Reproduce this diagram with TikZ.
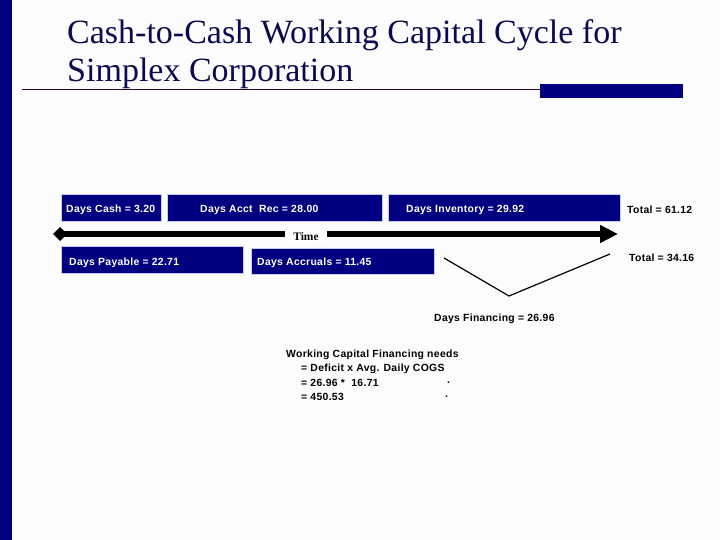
\documentclass[tikz,border=0pt]{standalone}
\usepackage{fontspec}
\setmainfont{Liberation Serif}
\newfontfamily\arialf[LetterSpace=3]{Liberation Sans}
\usetikzlibrary{arrows.meta}
\definecolor{navy}{RGB}{0,0,128}
\definecolor{titleblue}{RGB}{10,10,80}
\definecolor{rulecol}{RGB}{48,0,48}
\definecolor{bg}{RGB}{252,252,252}
\definecolor{edgecol}{RGB}{200,205,235}
\tikzset{
  bluebox/.style={fill=navy, draw=edgecol, line width=0.8pt, anchor=north west, inner sep=0pt},
  plain/.style={font=\arialf\bfseries\fontsize{10.4}{12}\selectfont, text=black, inner sep=0pt, anchor=west, yshift=-1.5pt},
  conn/.style={line width=1.2pt, black}
}
\begin{document}
\begin{tikzpicture}[x=1pt,y=-1pt]
\useasboundingbox (0,0) rectangle (720,540);
\fill[bg] (0,0) rectangle (720,540);
\fill[navy] (0,0) rectangle (12,540);
% title
\node[anchor=base west, inner sep=0pt, text=titleblue, font=\fontsize{34}{38}\selectfont] (t1) at (67,44) {Cash-to-Cash Working Capital Cycle for};
\node[anchor=base west, inner sep=0pt, text=titleblue, font=\fontsize{34}{38}\selectfont] (t2) at (67,82) {Simplex Corporation};
\draw[rulecol, line width=1.2pt] (22,89.5) -- (540,89.5);
\fill[navy] (540,84) rectangle (683,98);
% top boxes
\node[bluebox, minimum width=100, minimum height=27] (cash) at (61,194) {};
\node[plain, text=white] at ([xshift=5]cash.west) {Days Cash = 3.20};
\node[bluebox, minimum width=215, minimum height=27] (acct) at (167,194) {};
\node[plain, text=white] at (200,208) {Days Acct\ \ Rec = 28.00};
\node[bluebox, minimum width=232, minimum height=27] (inv) at (388,194) {};
\node[plain, text=white] at (406,208) {Days Inventory = 29.92};
\node[plain] (tot1) at (627,208) {Total = 61.12};
% time arrow
\coordinate (tstart) at (60,234);
\coordinate (tend) at (618,234);
\draw[line width=5pt, -{Triangle[length=18pt,width=17pt]}] (tstart) -- (tend);
\fill[black] (53,234) -- (60,227) -- (67,234) -- (60,241) -- cycle;
\node[fill=white, inner xsep=8pt, inner ysep=2pt, font=\fontsize{11.5}{12}\selectfont\bfseries] (time) at (306,237) {Time};
% bottom boxes
\node[bluebox, minimum width=182, minimum height=27] (pay) at (61,246) {};
\node[plain, text=white] at (69,261) {Days Payable = 22.71};
\node[bluebox, minimum width=183, minimum height=26] (accr) at (251,248) {};
\node[plain, text=white] at (257,261) {Days Accruals = 11.45};
\node[plain] (tot2) at (629,256) {Total = 34.16};
% financing lines
\coordinate (la) at (444,258);
\coordinate (lb) at (509,296);
\coordinate (lc) at (610,254);
\draw[conn] (la) -- (lb) -- (lc);
\node[plain] (fin) at (434,317) {Days Financing = 26.96};
% text block
\node[plain] (w1) at (286,353) {Working Capital Financing needs};
\node[plain] (w2) at (301,367) {= Deficit x Avg. Daily COGS};
\node[plain] (w3) at (301,381) {= 26.96 *\ \ 16.71};
\node[plain] (d3) at (447,381) {.};
\node[plain] (w4) at (301,395) {= 450.53};
\node[plain] (d4) at (445,395) {.};
\end{tikzpicture}
\end{document}
